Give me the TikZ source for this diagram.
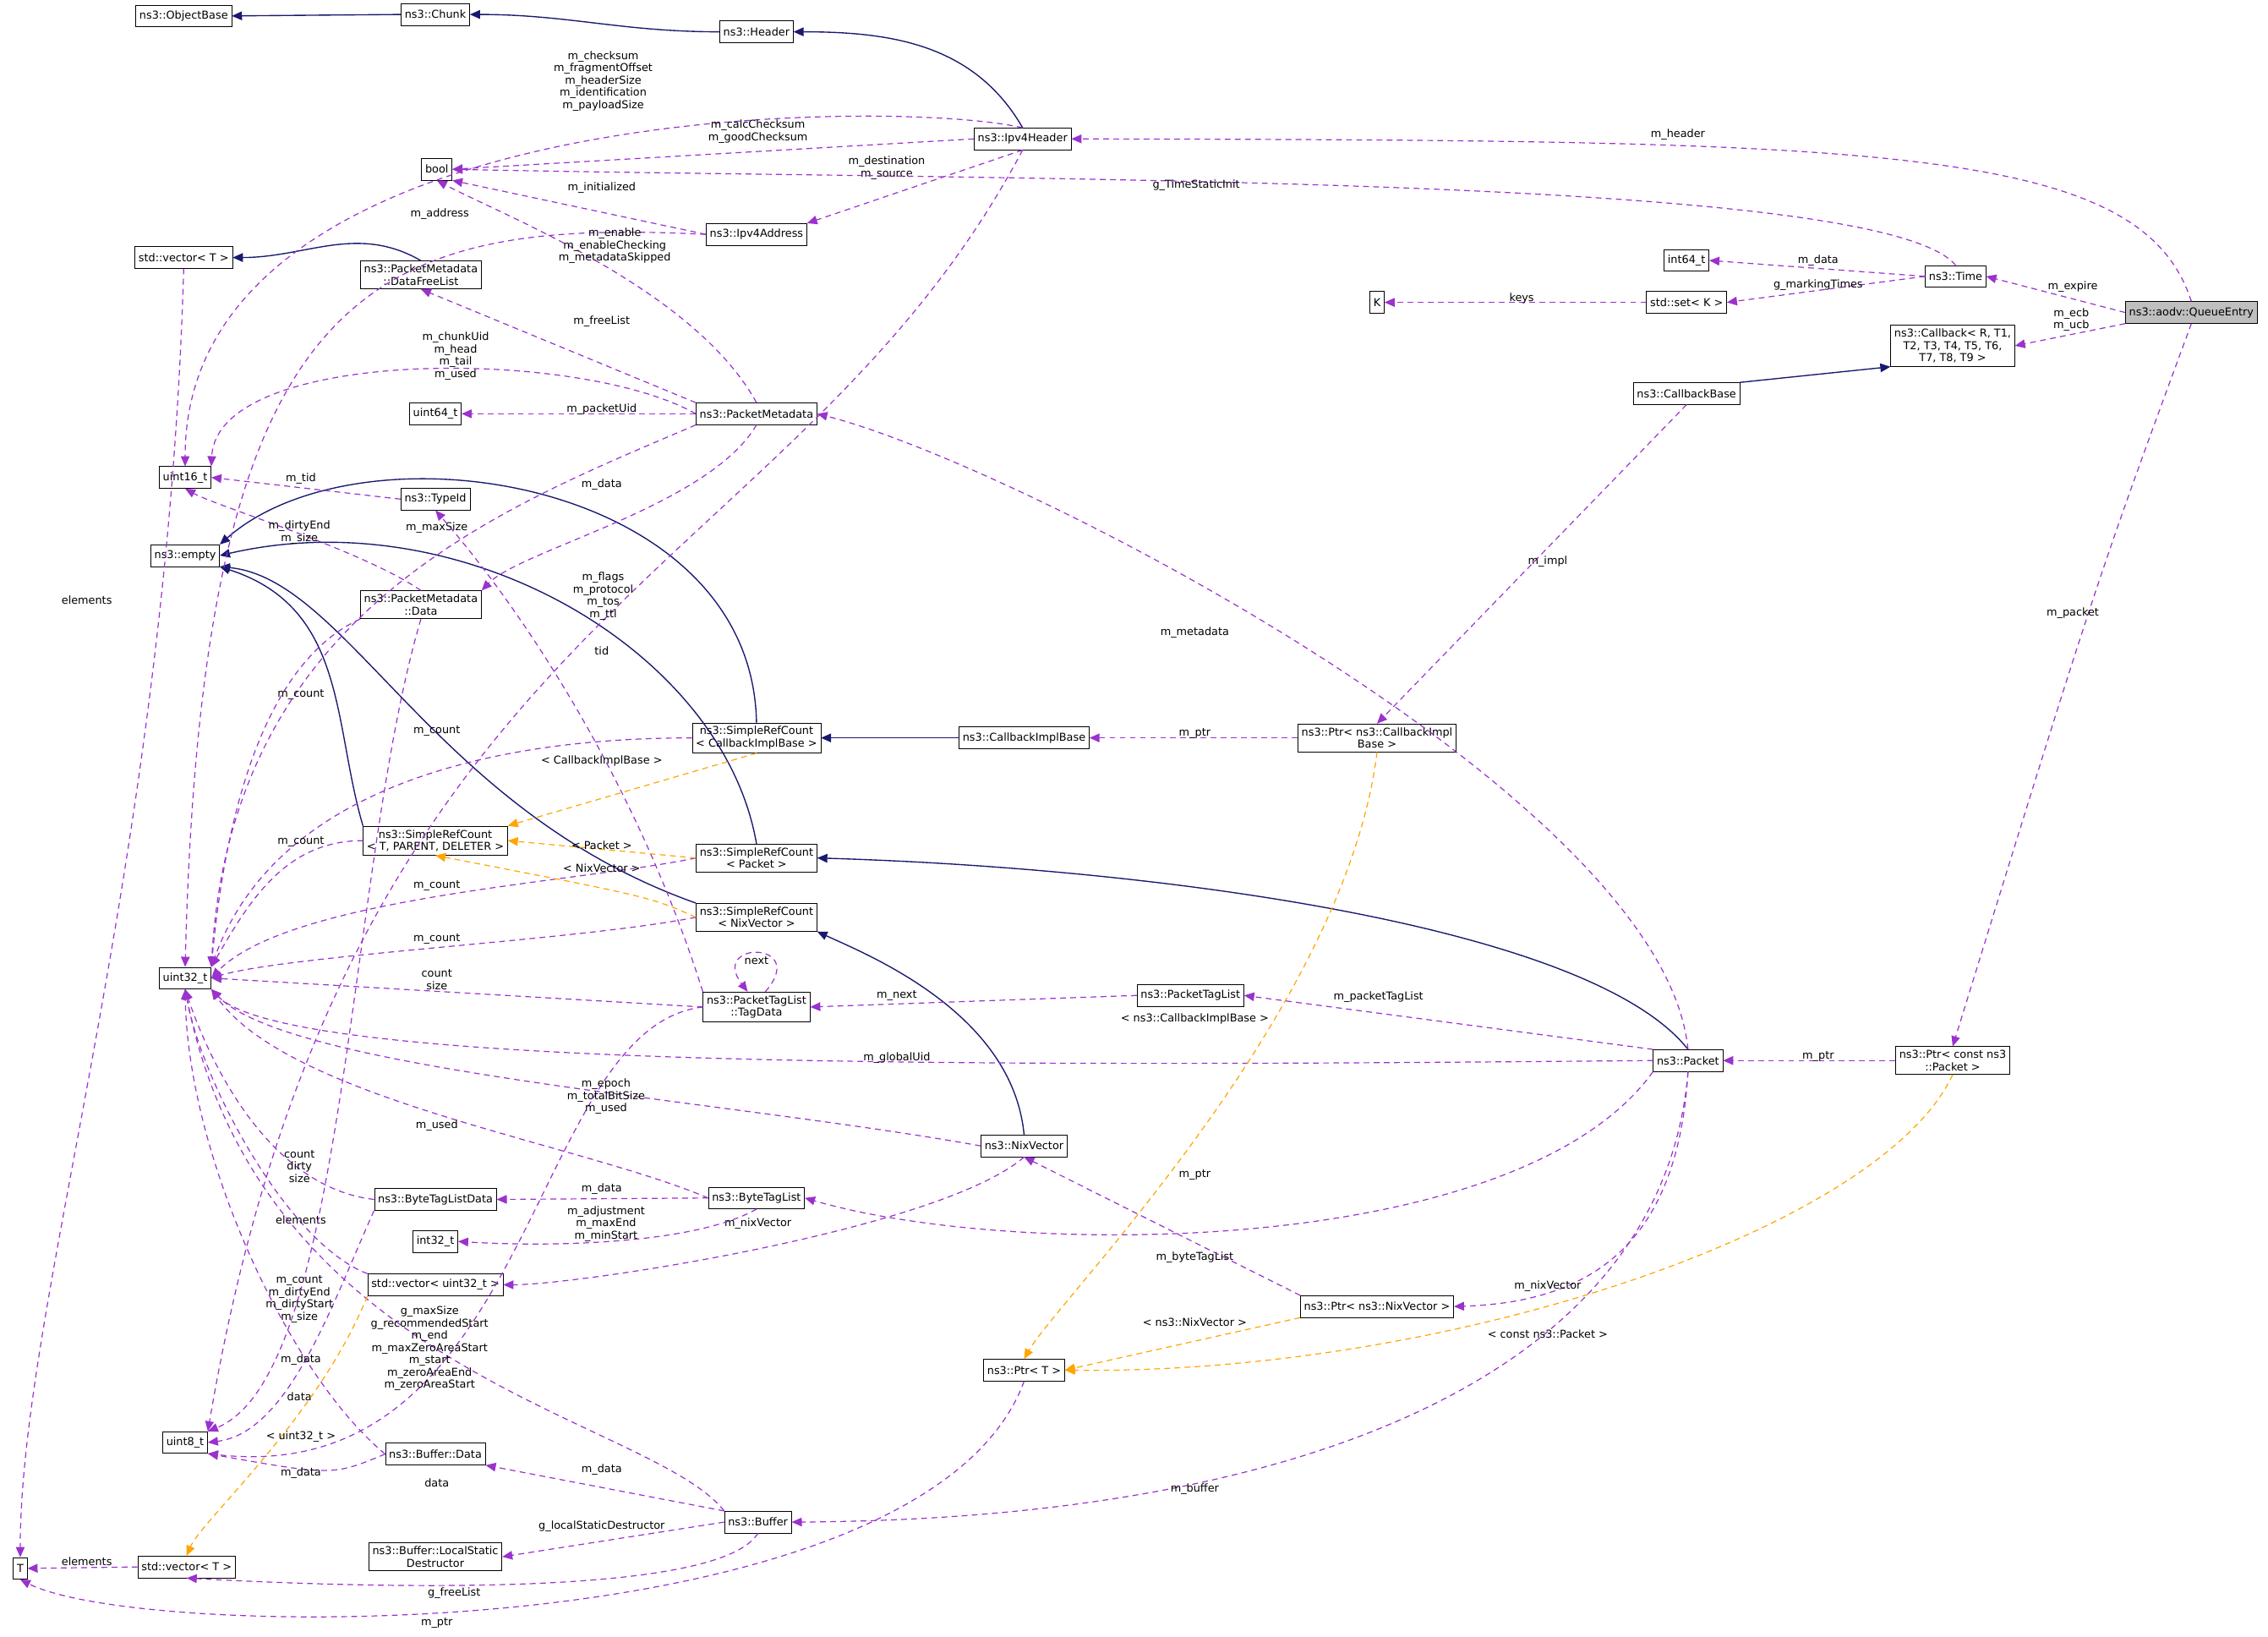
\documentclass[tikz,border=0pt]{standalone}
\usepackage{fontspec}
\setmainfont{DejaVu Sans}
\usetikzlibrary{arrows.meta}
\definecolor{inhc}{HTML}{191970}
\definecolor{usec}{HTML}{9A32CD}
\definecolor{tmpc}{HTML}{FFA500}
\tikzset{
 box/.style={draw=black,fill=white,inner sep=2.5pt,font=\fontsize{7.5}{8.5}\selectfont,align=center,minimum height=15pt},
 lbl/.style={inner sep=0pt,font=\fontsize{7.5}{8.5}\selectfont,align=center},
 inh/.style={draw=inhc,line width=0.8pt,-{Triangle[length=7pt,width=6pt]}},
 use/.style={draw=usec,line width=0.7pt,dash pattern=on 4pt off 3pt,-{Triangle[length=7pt,width=6pt]}},
 tmp/.style={draw=tmpc,line width=0.7pt,dash pattern=on 4pt off 3pt,-{Triangle[length=7pt,width=6pt]}},
}
\begin{document}
\begin{tikzpicture}[x=1pt,y=1pt]
\useasboundingbox[fill=white] (0,0) rectangle (1568,-1131);
% nodes
\node[box] (objbase) at (127,-11) {ns3::ObjectBase};
\node[box] (chunk) at (301,-10) {ns3::Chunk};
\node[box] (header) at (523,-22) {ns3::Header};
\node[box] (bool) at (302,-117) {bool};
\node[box] (ipv4h) at (707,-96) {ns3::Ipv4Header};
\node[box] (vectop) at (127,-178) {std::vector\textless{} T \textgreater};
\node[box] (dfl) at (291,-190) {ns3::PacketMetadata\\::DataFreeList};
\node[box] (ipv4a) at (523,-162) {ns3::Ipv4Address};
\node[box] (int64) at (1166,-180) {int64\_t};
\node[box] (time) at (1352,-191) {ns3::Time};
\node[box] (K) at (952,-209) {K};
\node[box] (stdset) at (1166,-209) {std::set\textless{} K \textgreater};
\node[box,fill=black!25] (qe) at (1515,-216) {ns3::aodv::QueueEntry};
\node[box] (callback) at (1350,-239) {ns3::Callback\textless{} R, T1,\\T2, T3, T4, T5, T6,\\T7, T8, T9 \textgreater};
\node[box] (cbbase) at (1166,-272) {ns3::CallbackBase};
\node[box] (u64) at (301,-286) {uint64\_t};
\node[box] (pm) at (523,-286) {ns3::PacketMetadata};
\node[box] (u16) at (128,-330) {uint16\_t};
\node[box] (typeid) at (301,-345) {ns3::TypeId};
\node[box] (empty) at (128,-384) {ns3::empty};
\node[box] (pmdata) at (291,-418) {ns3::PacketMetadata\\::Data};
\node[box] (srccb) at (523,-510) {ns3::SimpleRefCount\\\textless{} CallbackImplBase \textgreater};
\node[box] (cbimpl) at (708,-510) {ns3::CallbackImplBase};
\node[box] (ptrcb) at (952,-510) {ns3::Ptr\textless{} ns3::CallbackImpl\\Base \textgreater};
\node[box] (srctpd) at (301,-581) {ns3::SimpleRefCount\\\textless{} T, PARENT, DELETER \textgreater};
\node[box] (srcpkt) at (523,-593) {ns3::SimpleRefCount\\\textless{} Packet \textgreater};
\node[box] (srcnix) at (523,-634) {ns3::SimpleRefCount\\\textless{} NixVector \textgreater};
\node[box] (u32) at (128,-676) {uint32\_t};
\node[box] (tagdata) at (523,-696) {ns3::PacketTagList\\::TagData};
\node[box] (ptl) at (823,-688) {ns3::PacketTagList};
\node[box] (packet) at (1167,-733) {ns3::Packet};
\node[box] (ptrpkt) at (1350,-733) {ns3::Ptr\textless{} const ns3\\::Packet \textgreater};
\node[box] (nixvec) at (708,-792) {ns3::NixVector};
\node[box] (btld) at (301,-829) {ns3::ByteTagListData};
\node[box] (btl) at (523,-828) {ns3::ByteTagList};
\node[box] (int32) at (301,-858) {int32\_t};
\node[box] (vecu32) at (301,-888) {std::vector\textless{} uint32\_t \textgreater};
\node[box] (ptrnix) at (952,-903) {ns3::Ptr\textless{} ns3::NixVector \textgreater};
\node[box] (ptrT) at (708,-947) {ns3::Ptr\textless{} T \textgreater};
\node[box] (u8) at (128,-997) {uint8\_t};
\node[box] (bufdata) at (301,-1005) {ns3::Buffer::Data};
\node[box] (buffer) at (524,-1052) {ns3::Buffer};
\node[box] (lsd) at (301,-1076) {ns3::Buffer::LocalStatic\\Destructor};
\node[box] (vecTb) at (129,-1083) {std::vector\textless{} T \textgreater};
\node[box] (T) at (14,-1084) {T};
% inheritance
\draw[inh] (chunk.west) -- (objbase.east);
\draw[inh] (header.west) to[out=180,in=0] (chunk.east);
\draw[inh] (ipv4h.north) to[out=120,in=0] (header.east);
\draw[inh] (dfl.north) to[out=150,in=0] (vectop.east);
\draw[inh] (cbbase.north east) -- (callback.south west);
\draw[inh] (cbimpl.west) -- (srccb.east);
\draw[inh] (packet.north) .. controls (1100,-640) and (800,-600) .. (srcpkt.east);
\draw[inh] (nixvec.north) .. controls (700,-700) and (600,-660) .. (srcnix.south east);
\draw[inh] (srccb.north) .. controls (520,-330) and (250,-290) .. (empty.north east);
\draw[inh] (srctpd.north west) .. controls (230,-500) and (240,-420) .. (empty.south east);
\draw[inh] (srcpkt.north) .. controls (500,-450) and (320,-345) .. (empty.east);
\draw[inh] (srcnix.north west) .. controls (300,-560) and (240,-400) .. (empty.south east);
% usage
\draw[use] (ipv4h.north) .. controls (620,-68) and (128,-68) .. (u16.north);
\node[lbl] (l1) at (417,-56) {m\_checksum\\m\_fragmentOffset\\m\_headerSize\\m\_identification\\m\_payloadSize};
\draw[use] (ipv4h.west) -- (bool.east);
\node[lbl] (l2) at (524,-91) {m\_calcChecksum\\m\_goodChecksum};
\draw[use] (ipv4h.south) -- (ipv4a.north east);
\node[lbl] (l3) at (613,-116) {m\_destination\\m\_source};
\draw[use] (ipv4h.south) .. controls (550,-400) and (240,-420) .. (u8.north east);
\node[lbl] (l4) at (417,-412) {m\_flags\\m\_protocol\\m\_tos\\m\_ttl};
\draw[use] (time.north) .. controls (1300,-120) and (700,-125) .. (bool.east);
\node[lbl] (l5) at (827,-128) {g\_TimeStaticInit};
\draw[use] (ipv4a.west) -- (bool.south east);
\node[lbl] (l6) at (416,-130) {m\_initialized};
\draw[use] (ipv4a.west) .. controls (250,-150) and (140,-200) .. (u32.north);
\node[lbl] (l7) at (304,-148) {m\_address};
\draw[use] (pm.north) .. controls (480,-200) and (350,-150) .. (bool.south);
\node[lbl] (l8) at (425,-170) {m\_enable\\m\_enableChecking\\m\_metadataSkipped};
\draw[use] (pm.north west) -- (dfl.south);
\node[lbl] (l9) at (416,-222) {m\_freeList};
\draw[use] (pm.west) .. controls (400,-240) and (150,-240) .. (u16.north east);
\node[lbl] (l10) at (315,-246) {m\_chunkUid\\m\_head\\m\_tail\\m\_used};
\draw[use] (pm.west) -- (u64.east);
\node[lbl] (l11) at (416,-283) {m\_packetUid};
\draw[use] (pm.south) .. controls (490,-350) and (360,-380) .. (pmdata.north east);
\node[lbl] (l12) at (416,-335) {m\_data};
\draw[use] (pm.south west) .. controls (350,-350) and (160,-420) .. (u32.north east);
\node[lbl] (l13) at (302,-365) {m\_maxSize};
\draw[use] (typeid.west) -- (u16.east);
\node[lbl] (l14) at (208,-331) {m\_tid};
\draw[use] (pmdata.north) .. controls (250,-380) and (150,-350) .. (u16.south);
\node[lbl] (l15) at (207,-368) {m\_dirtyEnd\\m\_size};
\draw[use] (pmdata.south west) .. controls (200,-450) and (160,-520) .. (u32.north east);
\node[lbl] (l16) at (208,-480) {m\_count};
\draw[use] (srccb.west) .. controls (400,-510) and (200,-520) .. (u32.north east);
\node[lbl] (l17) at (302,-505) {m\_count};
\draw[use] (srctpd.west) to[out=180,in=60] (u32.north east);
\node[lbl] (l18) at (208,-582) {m\_count};
\draw[use] (srcpkt.west) .. controls (400,-610) and (200,-620) .. (u32.east);
\node[lbl] (l19) at (302,-612) {m\_count};
\draw[use] (srcnix.west) .. controls (400,-650) and (200,-660) .. (u32.east);
\node[lbl] (l20) at (302,-649) {m\_count};
\draw[use] (tagdata.west) -- (u32.east);
\node[lbl] (l21) at (302,-677) {count\\size};
\draw[use] (tagdata.north west) .. controls (440,-540) and (360,-420) .. (typeid.south);
\node[lbl] (l22) at (416,-450) {tid};
\draw[use] (tagdata.60) .. controls (560,-650) and (490,-650) .. (tagdata.120);
\node[lbl] (l23) at (523,-664) {next};
\draw[use] (tagdata.west) .. controls (365,-710) and (370,-1030) .. (u8.south east);
\node[lbl] (l24) at (302,-1025) {data};
\draw[use] (ptl.west) -- (tagdata.east);
\node[lbl] (l25) at (620,-688) {m\_next};
\draw[use] (packet.north west) -- (ptl.east);
\node[lbl] (l26) at (953,-689) {m\_packetTagList};
\draw[use] (packet.west) .. controls (700,-737) and (200,-740) .. (u32.south east);
\node[lbl] (l27) at (620,-731) {m\_globalUid};
\draw[use] (packet.north) .. controls (1150,-550) and (700,-320) .. (pm.east);
\node[lbl] (l28) at (826,-437) {m\_metadata};
\draw[use] (packet.south west) .. controls (1050,-870) and (700,-870) .. (btl.east);
\node[lbl] (l29) at (826,-869) {m\_byteTagList};
\draw[use] (packet.south) .. controls (1160,-860) and (1100,-900) .. (ptrnix.east);
\node[lbl] (l30) at (1070,-889) {m\_nixVector};
\draw[use] (packet.south) .. controls (1150,-950) and (900,-1050) .. (buffer.east);
\node[lbl] (l31) at (826,-1029) {m\_buffer};
\draw[use] (ptrpkt.west) -- (packet.east);
\node[lbl] (l32) at (1257,-730) {m\_ptr};
\draw[use] (qe.north) .. controls (1480,-100) and (1300,-97) .. (ipv4h.east);
\node[lbl] (l33) at (1160,-93) {m\_header};
\draw[use] (qe.west) -- (time.east);
\node[lbl] (l34) at (1433,-198) {m\_expire};
\draw[use] (qe.south west) -- (callback.east);
\node[lbl] (l35) at (1432,-221) {m\_ecb\\m\_ucb};
\draw[use] (qe.south) .. controls (1450,-400) .. (ptrpkt.north);
\node[lbl] (l36) at (1433,-424) {m\_packet};
\draw[use] (time.west) -- (int64.east);
\node[lbl] (l37) at (1257,-180) {m\_data};
\draw[use] (time.west) -- (stdset.east);
\node[lbl] (l38) at (1257,-197) {g\_markingTimes};
\draw[use] (stdset.west) -- (K.east);
\node[lbl] (l39) at (1052,-206) {keys};
\draw[use] (cbbase.south) -- (ptrcb.north);
\node[lbl] (l40) at (1070,-388) {m\_impl};
\draw[use] (ptrcb.west) -- (cbimpl.east);
\node[lbl] (l41) at (826,-507) {m\_ptr};
\draw[use] (nixvec.west) .. controls (500,-760) and (200,-740) .. (u32.south east);
\node[lbl] (l42) at (419,-758) {m\_epoch\\m\_totalBitSize\\m\_used};
\draw[use] (nixvec.south) .. controls (650,-850) and (400,-888) .. (vecu32.east);
\node[lbl] (l43) at (524,-846) {m\_nixVector};
\draw[use] (ptrnix.north west) -- (nixvec.south);
\node[lbl] (l44) at (826,-812) {m\_ptr};
\draw[use] (btl.west) .. controls (400,-790) and (200,-760) .. (u32.south east);
\node[lbl] (l45) at (302,-778) {m\_used};
\draw[use] (btl.west) -- (btld.east);
\node[lbl] (l46) at (416,-822) {m\_data};
\draw[use] (btl.south) .. controls (480,-860) and (380,-862) .. (int32.east);
\node[lbl] (l47) at (419,-846) {m\_adjustment\\m\_maxEnd\\m\_minStart};
\draw[use] (btld.west) .. controls (180,-820) and (140,-720) .. (u32.south);
\node[lbl] (l48) at (207,-806) {count\\dirty\\size};
\draw[use] (btld.south west) .. controls (230,-900) and (200,-990) .. (u8.east);
\node[lbl] (l49) at (207,-965) {data};
\draw[use] (vecu32.north west) .. controls (200,-860) and (140,-750) .. (u32.south);
\node[lbl] (l50) at (208,-843) {elements};
\draw[use] (bufdata.west) .. controls (200,-950) and (130,-800) .. (u32.south);
\node[lbl] (l51) at (207,-898) {m\_count\\m\_dirtyEnd\\m\_dirtyStart\\m\_size};
\draw[use] (bufdata.west) .. controls (230,-1020) .. (u8.south east);
\node[lbl] (l52) at (208,-1018) {m\_data};
\draw[use] (buffer.north west) .. controls (450,-980) and (180,-950) .. (u32.south);
\node[lbl] (l53) at (297,-932) {g\_maxSize\\g\_recommendedStart\\m\_end\\m\_maxZeroAreaStart\\m\_start\\m\_zeroAreaEnd\\m\_zeroAreaStart};
\draw[use] (buffer.north west) -- (bufdata.south east);
\node[lbl] (l54) at (416,-1016) {m\_data};
\draw[use] (buffer.west) -- (lsd.east);
\node[lbl] (l55) at (416,-1055) {g\_localStaticDestructor};
\draw[use] (buffer.south) .. controls (500,-1100) and (300,-1100) .. (vecTb.south);
\node[lbl] (l56) at (314,-1101) {g\_freeList};
\draw[use] (vecTb.west) -- (T.east);
\node[lbl] (l57) at (60,-1079) {elements};
\draw[use] (vectop.south) .. controls (115,-600) and (14,-900) .. (T.north);
\node[lbl] (l58) at (60,-415) {elements};
\draw[use] (ptrT.south) .. controls (640,-1140) and (100,-1135) .. (T.south);
\node[lbl] (l59) at (302,-1122) {m\_ptr};
\draw[use] (pmdata.south) .. controls (240,-600) and (240,-950) .. (u8.north east);
\node[lbl] (l60) at (208,-940) {m\_data};
% templates
\draw[tmp] (ptrcb.south) .. controls (930,-700) and (730,-900) .. (ptrT.north);
\node[lbl] (t1) at (826,-704) {\textless{} ns3::CallbackImplBase \textgreater};
\draw[tmp] (ptrnix.south west) -- (ptrT.east);
\node[lbl] (t2) at (826,-914) {\textless{} ns3::NixVector \textgreater};
\draw[tmp] (ptrpkt.south) .. controls (1300,-850) and (1000,-950) .. (ptrT.east);
\node[lbl] (t3) at (1070,-922) {\textless{} const ns3::Packet \textgreater};
\draw[tmp] (srccb.south) -- (srctpd.north east);
\node[lbl] (t4) at (416,-526) {\textless{} CallbackImplBase \textgreater};
\draw[tmp] (srcpkt.west) -- (srctpd.east);
\node[lbl] (t5) at (416,-584) {\textless{} Packet \textgreater};
\draw[tmp] (srcnix.west) .. controls (450,-620) .. (srctpd.south);
\node[lbl] (t6) at (416,-600) {\textless{} NixVector \textgreater};
\draw[tmp] (vecu32.south west) .. controls (220,-980) and (140,-1050) .. (vecTb.north);
\node[lbl] (t7) at (208,-993) {\textless{} uint32\_t \textgreater};
\end{tikzpicture}
\end{document}
